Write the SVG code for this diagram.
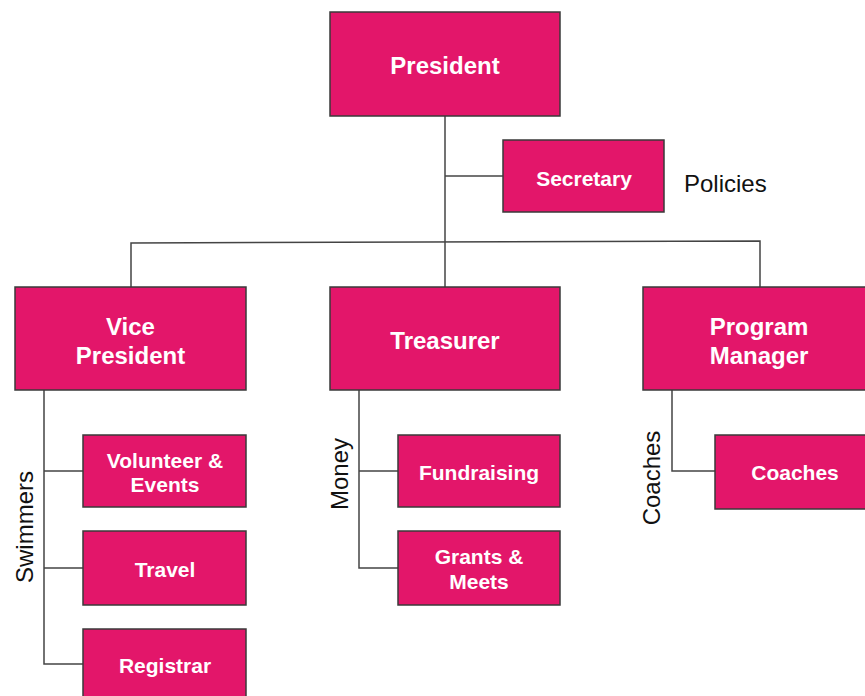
<svg xmlns="http://www.w3.org/2000/svg" width="865" height="696" viewBox="0 0 865 696">
<style>
.box{fill:#E3166A;stroke:#3a3a3a;stroke-width:1.5}
.t{font-family:"Liberation Sans",Arial,sans-serif;font-weight:bold;fill:#fff;text-anchor:middle}
.big{font-size:24px}
.sm{font-size:21px}
.lbl{font-family:"Liberation Sans",Arial,sans-serif;font-size:24px;fill:#111}
.c{stroke:#444;stroke-width:1.5;fill:none}
</style>
<rect width="865" height="696" fill="#fff"/>
<g id="connectors">
<path class="c" d="M445 116V287"/>
<path class="c" d="M445 176H503"/>
<path class="c" d="M131 287V243L760 241V287"/>
<path class="c" d="M44 390V664H83M44 471H83M44 568H83"/>
<path class="c" d="M359 390V568H398M359 471H398"/>
<path class="c" d="M672 390V471H715"/>
</g>
<g id="president"><rect class="box" x="330" y="12" width="230" height="104"/><text class="t big" x="445" y="73.5">President</text></g>
<g id="secretary"><rect class="box" x="503" y="140" width="161" height="72"/><text class="t sm" x="584" y="185.5">Secretary</text></g>
<g id="policies"><text class="lbl" x="684" y="191.5">Policies</text></g>
<g id="vp"><rect class="box" x="15" y="287" width="231" height="103"/><text class="t big" x="130.5" y="334.5">Vice</text><text class="t big" x="130.5" y="363.5">President</text></g>
<g id="treasurer"><rect class="box" x="330" y="287" width="230" height="103"/><text class="t big" x="445" y="348.5">Treasurer</text></g>
<g id="pm"><rect class="box" x="643" y="287" width="232" height="103"/><text class="t big" x="759" y="334.5">Program</text><text class="t big" x="759" y="363.5">Manager</text></g>
<g id="volunteer"><rect class="box" x="83" y="435" width="163" height="72"/><text class="t sm" x="165" y="467.5">Volunteer &amp;</text><text class="t sm" x="165" y="491.5">Events</text></g>
<g id="travel"><rect class="box" x="83" y="531" width="163" height="74"/><text class="t sm" x="165" y="576.5">Travel</text></g>
<g id="registrar"><rect class="box" x="83" y="629" width="163" height="74"/><text class="t sm" x="165" y="672.5">Registrar</text></g>
<g id="swimmers"><text class="lbl" transform="translate(33 527) rotate(-90)" text-anchor="middle">Swimmers</text></g>
<g id="fundraising"><rect class="box" x="398" y="435" width="162" height="72"/><text class="t sm" x="479" y="479.5">Fundraising</text></g>
<g id="grants"><rect class="box" x="398" y="531" width="162" height="74"/><text class="t sm" x="479" y="563.5">Grants &amp;</text><text class="t sm" x="479" y="588.5">Meets</text></g>
<g id="money"><text class="lbl" transform="translate(348 474) rotate(-90)" text-anchor="middle">Money</text></g>
<g id="coaches"><rect class="box" x="715" y="435" width="160" height="74"/><text class="t sm" x="795" y="479.5">Coaches</text></g>
<g id="coacheslbl"><text class="lbl" transform="translate(660 478) rotate(-90)" text-anchor="middle">Coaches</text></g>
</svg>
